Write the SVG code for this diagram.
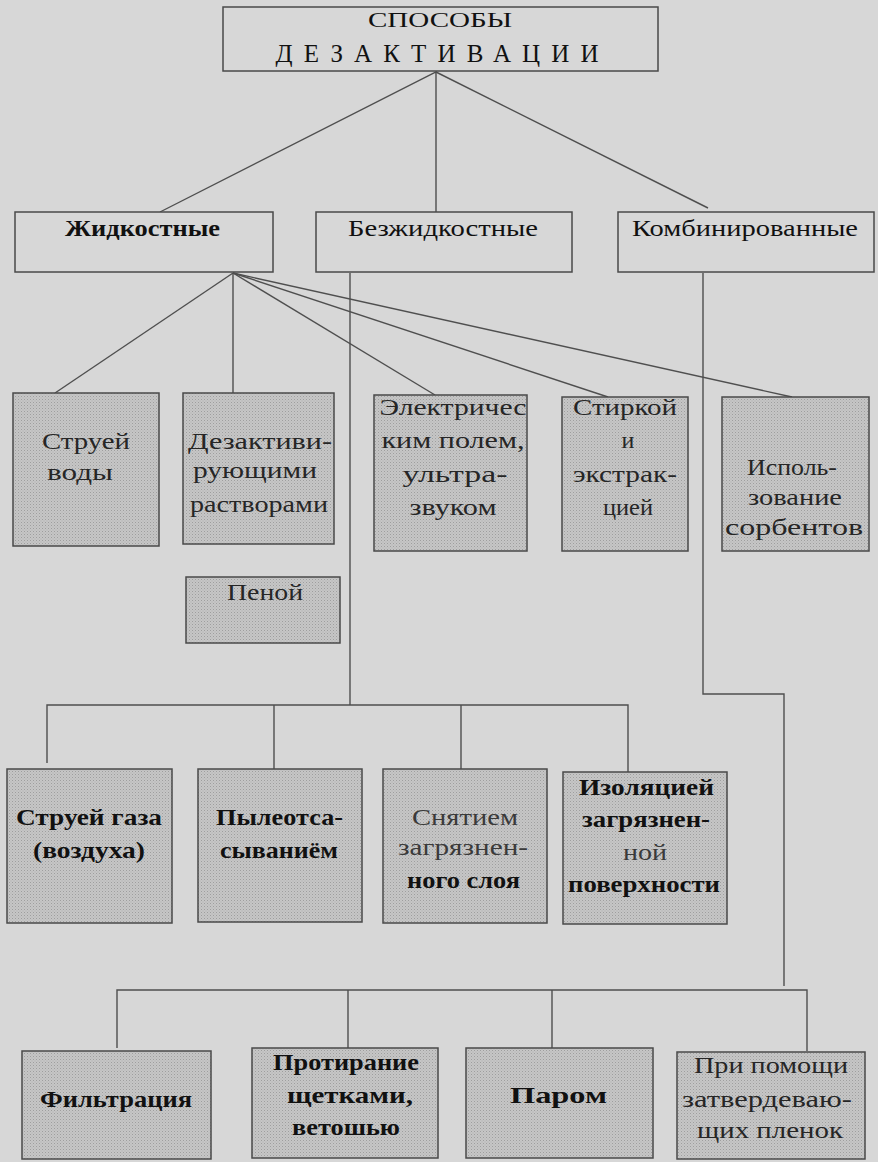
<svg xmlns="http://www.w3.org/2000/svg" width="878" height="1162" viewBox="0 0 878 1162" font-family="Liberation Serif, DejaVu Serif, serif">
<defs>
<pattern id="dots" width="3" height="3" patternUnits="userSpaceOnUse">
<rect width="3" height="3" fill="#c6c6c6"/>
<rect x="0" y="0" width="1" height="1" fill="#9e9e9e"/>
<rect x="1.5" y="1.5" width="1" height="1" fill="#b0b0b0"/>
</pattern>
</defs>
<style>
.bg{fill:#d7d7d7}
.plain{fill:#d7d7d7;stroke:#4a4a4a;stroke-width:1.5}
.shade{fill:url(#dots);stroke:#4a4a4a;stroke-width:1.5}
.ln{fill:none;stroke:#4f4f4f;stroke-width:1.4}
text{fill:#111;text-anchor:middle}
.t2{font-size:23px;font-weight:bold}
.t2n{font-size:23px}
.t3{font-size:24px;fill:#262626}
.t4{font-size:23px;font-weight:bold}
</style>
<rect class="bg" x="0" y="0" width="878" height="1162"/>

<g id="connectors">
<polyline class="ln" points="160,212 436,72 436,212"/>
<line class="ln" x1="436" y1="72" x2="708" y2="208"/>
<line class="ln" x1="233" y1="273" x2="55" y2="393"/>
<line class="ln" x1="233" y1="273" x2="233" y2="393"/>
<line class="ln" x1="233" y1="273" x2="435" y2="395"/>
<line class="ln" x1="233" y1="273" x2="608" y2="397"/>
<line class="ln" x1="233" y1="273" x2="792" y2="397"/>
<line class="ln" x1="350" y1="273" x2="350" y2="705"/>
<polyline class="ln" points="47,763 47,705 628,705 628,772"/>
<line class="ln" x1="274" y1="705" x2="274" y2="769"/>
<line class="ln" x1="461" y1="705" x2="461" y2="769"/>
<polyline class="ln" points="703,273 703,694 784,694 784,986"/>
<polyline class="ln" points="117,1048 117,990 807,990 807,1051"/>
<line class="ln" x1="348" y1="990" x2="348" y2="1048"/>
<line class="ln" x1="552" y1="990" x2="552" y2="1048"/>
</g>

<g id="root">
<rect class="plain" x="223" y="7" width="435" height="64"/>
<text x="440" y="27" style="font-size:22px" textLength="144" lengthAdjust="spacingAndGlyphs">СПОСОБЫ</text>
<text x="437" y="62" style="font-size:25px" textLength="323" lengthAdjust="spacing">ДЕЗАКТИВАЦИИ</text>
</g>

<g id="zhidkostnye">
<rect class="plain" x="15" y="212" width="258" height="60"/>
<text class="t2" x="142.5" y="236" textLength="155" lengthAdjust="spacingAndGlyphs">Жидкостные</text>
</g>
<g id="bezzhidkostnye">
<rect class="plain" x="316" y="212" width="256" height="60"/>
<text class="t2n" x="443" y="236" textLength="190" lengthAdjust="spacingAndGlyphs">Безжидкостные</text>
</g>
<g id="kombinirovannye">
<rect class="plain" x="618" y="212" width="256" height="60"/>
<text class="t2n" x="745" y="236" textLength="226" lengthAdjust="spacingAndGlyphs">Комбинированные</text>
</g>

<g id="struey-vody">
<rect class="shade" x="13" y="393" width="146" height="153"/>
<text class="t3" x="86" y="449" textLength="88" lengthAdjust="spacingAndGlyphs">Струей</text>
<text class="t3" x="80" y="480" textLength="66" lengthAdjust="spacingAndGlyphs">воды</text>
</g>
<g id="dezaktiv">
<rect class="shade" x="183" y="393" width="151" height="151"/>
<text class="t3" x="260" y="449" textLength="144" lengthAdjust="spacingAndGlyphs">Дезактиви-</text>
<text class="t3" x="255" y="478" textLength="124" lengthAdjust="spacingAndGlyphs">рующими</text>
<text class="t3" x="259" y="512" textLength="138" lengthAdjust="spacingAndGlyphs">растворами</text>
</g>
<g id="penoy">
<rect class="shade" x="186" y="577" width="154" height="66"/>
<text class="t3" x="265" y="600" textLength="76" lengthAdjust="spacingAndGlyphs">Пеной</text>
</g>
<g id="elektr">
<rect class="shade" x="374" y="395" width="153" height="156"/>
<text class="t3" x="453" y="415" textLength="147" lengthAdjust="spacingAndGlyphs">Электричес</text>
<text class="t3" x="453" y="448" textLength="143" lengthAdjust="spacingAndGlyphs">ким полем,</text>
<text class="t3" x="455" y="482" textLength="105" lengthAdjust="spacingAndGlyphs">ультра-</text>
<text class="t3" x="453" y="515" textLength="87" lengthAdjust="spacingAndGlyphs">звуком</text>
</g>
<g id="stirkoy">
<rect class="shade" x="562" y="397" width="126" height="154"/>
<text class="t3" x="625" y="415" textLength="104" lengthAdjust="spacingAndGlyphs">Стиркой</text>
<text class="t3" x="628" y="448">и</text>
<text class="t3" x="625" y="482" textLength="104" lengthAdjust="spacingAndGlyphs">экстрак-</text>
<text class="t3" x="628" y="515" textLength="50" lengthAdjust="spacingAndGlyphs">цией</text>
</g>
<g id="sorbenty">
<rect class="shade" x="722" y="397" width="147" height="154"/>
<text class="t3" x="792" y="475" textLength="90" lengthAdjust="spacingAndGlyphs">Исполь-</text>
<text class="t3" x="795" y="505" textLength="94" lengthAdjust="spacingAndGlyphs">зование</text>
<text class="t3" x="794" y="535" textLength="138" lengthAdjust="spacingAndGlyphs">сорбентов</text>
</g>

<g id="struey-gaza">
<rect class="shade" x="7" y="769" width="165" height="154"/>
<text class="t4" x="89" y="825" textLength="146" lengthAdjust="spacingAndGlyphs">Струей газа</text>
<text class="t4" x="89" y="858" textLength="112" lengthAdjust="spacingAndGlyphs">(воздуха)</text>
</g>
<g id="pyleots">
<rect class="shade" x="198" y="769" width="164" height="153"/>
<text class="t4" x="279.5" y="825" textLength="127" lengthAdjust="spacingAndGlyphs">Пылеотса-</text>
<text class="t4" x="279" y="858" textLength="118" lengthAdjust="spacingAndGlyphs">сываниём</text>
</g>
<g id="snyatiem">
<rect class="shade" x="383" y="769" width="164" height="154"/>
<text class="t3" x="465" y="825" textLength="106" lengthAdjust="spacingAndGlyphs" style="fill:#3a3a3a">Снятием</text>
<text class="t3" x="463" y="855" textLength="130" lengthAdjust="spacingAndGlyphs" style="fill:#3a3a3a">загрязнен-</text>
<text class="t4" x="463.5" y="888" textLength="113" lengthAdjust="spacingAndGlyphs">ного слоя</text>
</g>
<g id="izolyatsiey">
<rect class="shade" x="563" y="772" width="164" height="152"/>
<text class="t4" x="646.5" y="795" textLength="135" lengthAdjust="spacingAndGlyphs">Изоляцией</text>
<text class="t4" x="646" y="827" textLength="128" lengthAdjust="spacingAndGlyphs">загрязнен-</text>
<text class="t3" x="645" y="860" textLength="44" lengthAdjust="spacingAndGlyphs" style="fill:#3a3a3a">ной</text>
<text class="t4" x="644" y="892" textLength="152" lengthAdjust="spacingAndGlyphs">поверхности</text>
</g>

<g id="filtratsiya">
<rect class="shade" x="22" y="1051" width="189" height="108"/>
<text class="t4" x="116" y="1107" textLength="152" lengthAdjust="spacingAndGlyphs">Фильтрация</text>
</g>
<g id="protiranie">
<rect class="shade" x="252" y="1048" width="186" height="110"/>
<text class="t4" x="346" y="1070" textLength="146" lengthAdjust="spacingAndGlyphs">Протирание</text>
<text class="t4" x="350" y="1103" textLength="126" lengthAdjust="spacingAndGlyphs">щетками,</text>
<text class="t4" x="346" y="1135" textLength="108" lengthAdjust="spacingAndGlyphs">ветошью</text>
</g>
<g id="parom">
<rect class="shade" x="466" y="1048" width="187" height="110"/>
<text class="t4" x="558.5" y="1103" textLength="97" lengthAdjust="spacingAndGlyphs">Паром</text>
</g>
<g id="pri-pomoshchi">
<rect class="shade" x="677" y="1052" width="188" height="107"/>
<text class="t3" x="771" y="1073" textLength="154" lengthAdjust="spacingAndGlyphs">При помощи</text>
<text class="t3" x="767" y="1107" textLength="170" lengthAdjust="spacingAndGlyphs">затвердеваю-</text>
<text class="t3" x="770" y="1138" textLength="146" lengthAdjust="spacingAndGlyphs">щих пленок</text>
</g>
</svg>
